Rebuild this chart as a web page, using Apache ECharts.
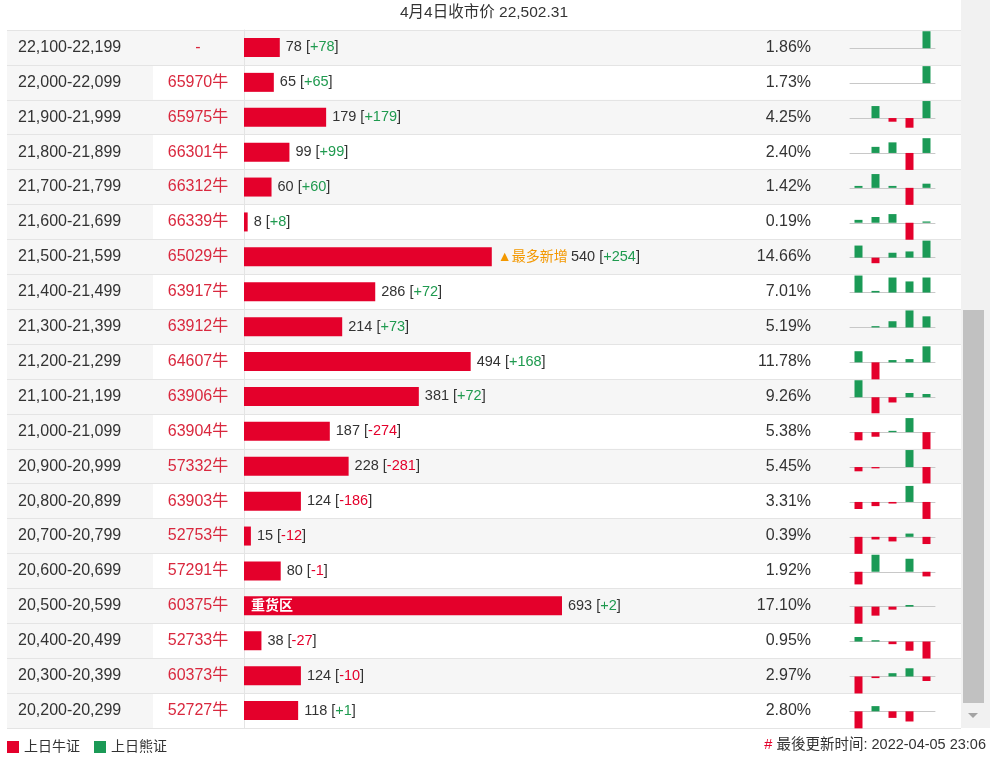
<!DOCTYPE html>
<html><head><meta charset="utf-8">
<script src="https://cdn.jsdelivr.net/npm/echarts@6/dist/echarts.min.js"></script>
<style>html,body{margin:0;padding:0;background:#fff}#c{width:990px;height:763px}</style>
</head><body><div id="c"></div>
<script>
const ranges = ['22,100-22,199','22,000-22,099','21,900-21,999','21,800-21,899','21,700-21,799','21,600-21,699','21,500-21,599','21,400-21,499','21,300-21,399','21,200-21,299','21,100-21,199','21,000-21,099','20,900-20,999','20,800-20,899','20,700-20,799','20,600-20,699','20,500-20,599','20,400-20,499','20,300-20,399','20,200-20,299'];
const codes = ['-','65970牛','65975牛','66301牛','66312牛','66339牛','65029牛','63917牛','63912牛','64607牛','63906牛','63904牛','57332牛','63903牛','52753牛','57291牛','60375牛','52733牛','60373牛','52727牛'];
const counts = [78,65,179,99,60,8,540,286,214,494,381,187,228,124,15,80,693,38,124,118];
const changes = [78,65,179,99,60,8,254,72,73,168,72,-274,-281,-186,-12,-1,2,-27,-10,1];
const pcts = ['1.86%','1.73%','4.25%','2.40%','1.42%','0.19%','14.66%','7.01%','5.19%','11.78%','9.26%','5.38%','5.45%','3.31%','0.39%','1.92%','17.10%','0.95%','2.97%','2.80%'];
const days = ['T-4','T-3','T-2','T-1','T'];
// 5-day mini bars per row (relative heights)
const sparks = [
  [0,0,0,0,51],
  [0,0,0,0,51],
  [0,36,-11,-29,51],
  [0,19,33,-53,46],
  [6,43,6,-53,13],
  [9,18,27,-53,4],
  [37,-17,15,19,52],
  [52,5,46,34,46],
  [0,4,19,52,34],
  [34,-52,7,10,49],
  [52,-49,-16,13,10],
  [-25,-14,4,43,-52],
  [-13,-4,0,52,-50],
  [-22,-13,-5,50,-53],
  [-52,-8,-14,10,-22],
  [-38,51,0,39,-14],
  [-51,-27,-9,5,0],
  [14,4,-8,-28,-52],
  [-52,-5,10,25,-14],
  [-52,16,-20,-31,0]
];
const titleText = '4月4日收市价 22,502.31';
const updateText = '最後更新时间: 2022-04-05 23:06';
const legendNames = ['上日牛证','上日熊证'];

const FONT = '"Liberation Sans", Arial, "Noto Sans CJK SC", sans-serif';
const RED = '#e4002b', GREEN = '#1b9a56', CODE_RED = '#d9283e', TXT = '#333';
const TOP = 30, H = 698, N = ranges.length, ROW = H / N;
const heavyIdx = counts.indexOf(Math.max(...counts));
const newIdx = changes.indexOf(Math.max(...changes));

const chart = echarts.init(document.getElementById('c'));

const grids = [
  {left: 7, right: 29, top: TOP, height: H},      // 0 table background
  {left: 7, width: 146, top: TOP, height: H},     // 1 first column
  {left: 244, right: 57.7, top: TOP, height: H}   // 2 bars
];
const xAxes = [
  {gridIndex: 0, type: 'value', show: false},
  {gridIndex: 1, type: 'value', show: false},
  {gridIndex: 2, type: 'value', min: 0, max: 1500, show: false}
];
const catBase = {type: 'category', inverse: true, data: ranges, axisTick: {show: false}};
const yAxes = [
  Object.assign({}, catBase, {gridIndex: 0, z: 0, axisLine: {show: false}, axisLabel: {show: false, interval: 0},
    splitLine: {show: true, interval: 0, lineStyle: {color: '#e4e4e4'}},
    splitArea: {show: true, interval: 0, areaStyle: {color: ['#f6f6f6', '#ffffff']}}}),
  Object.assign({}, catBase, {gridIndex: 1, z: 1, axisLine: {show: false}, axisLabel: {show: false, interval: 0},
    splitLine: {show: true, interval: 0, lineStyle: {color: '#e4e4e4'}},
    splitArea: {show: true, interval: 0, areaStyle: {color: ['#f6f6f6', '#f6f6f6']}}}),
  Object.assign({}, catBase, {gridIndex: 0, z: 3, position: 'left', axisLine: {show: false},
    axisLabel: {inside: true, margin: 11, interval: 0, align: 'left',
      formatter: (v, i) => '{a|' + v + '}{b|' + codes[i] + '}',
      rich: {
        a: {width: 135, align: 'left', fontSize: 16, color: TXT, fontFamily: FONT},
        b: {width: 90, align: 'center', fontSize: 16, color: CODE_RED, fontFamily: FONT}
      }}}),
  Object.assign({}, catBase, {gridIndex: 0, z: 3, position: 'right', data: pcts, axisLine: {show: false},
    axisLabel: {inside: true, margin: 150, interval: 0, fontSize: 16, color: TXT, fontFamily: FONT}}),
  Object.assign({}, catBase, {gridIndex: 2, z: 3, axisLine: {show: true, lineStyle: {color: '#e4e4e4'}}, axisLabel: {show: false}})
];

const series = [
  {type: 'bar', name: '街货', xAxisIndex: 2, yAxisIndex: 4, data: counts, barWidth: 19, silent: true,
    itemStyle: {color: RED}, z: 3,
    label: {show: true, position: 'right', distance: 6,
      formatter: p => {
        const i = p.dataIndex, c = changes[i];
        const cs = (c > 0 ? '+' : '') + c;
        return (i === newIdx ? '{o|▲最多新增} ' : '') + '{v|' + counts[i] + ' [}{' + (c >= 0 ? 'g' : 'r') + '|' + cs + '}{v|]}';
      },
      rich: {
        v: {fontSize: 14.5, color: TXT, fontFamily: FONT},
        g: {fontSize: 14.5, color: '#1f9a4f', fontFamily: FONT},
        r: {fontSize: 14.5, color: RED, fontFamily: FONT},
        o: {fontSize: 14, color: '#f39800', fontFamily: FONT}
      }}},
  {type: 'bar', name: '重货区', xAxisIndex: 2, yAxisIndex: 4, barGap: '-100%', barWidth: 19, silent: true, z: 4,
    data: counts.map((v, i) => ({value: v, label: {show: i === heavyIdx}})),
    itemStyle: {color: 'rgba(0,0,0,0)'},
    label: {position: 'insideLeft', distance: 7, formatter: '重货区', color: '#fff', fontWeight: 'bold', fontSize: 14, fontFamily: FONT}}
];

sparks.forEach((row, i) => {
  const gi = 3 + i;
  grids.push({left: 850, width: 85, top: TOP + ROW * i + 1.25, height: 34});
  xAxes.push({gridIndex: gi, type: 'category', data: days, z: 1,
    axisLine: {show: true, lineStyle: {color: '#c8c8c8'}}, axisTick: {show: false}, axisLabel: {show: false}});
  const sym = v => Math.max(Math.abs(v.min), Math.abs(v.max)) || 1;
  yAxes.push({gridIndex: gi, type: 'value', show: false, min: v => -sym(v), max: v => sym(v)});
  series.push({type: 'bar', name: legendNames[1], xAxisIndex: gi, yAxisIndex: 5 + i, stack: 's' + i, barWidth: 8, silent: true, z: 3,
    data: row.map(v => v > 0 ? v : 0), itemStyle: {color: GREEN}});
  series.push({type: 'bar', name: legendNames[0], xAxisIndex: gi, yAxisIndex: 5 + i, stack: 's' + i, barWidth: 8, silent: true, z: 3,
    data: row.map(v => v < 0 ? v : 0), itemStyle: {color: RED}});
});

chart.setOption({
  animation: false,
  backgroundColor: '#fff',
  title: [
    {text: titleText, left: 484, textAlign: 'center', top: 5, padding: 0,
      textStyle: {fontSize: 15.5, fontWeight: 'normal', color: TXT, fontFamily: FONT}},
    {text: '{h|#} ' + updateText, right: 4, top: 738, padding: 0,
      textStyle: {fontSize: 14.5, fontWeight: 'normal', color: TXT, fontFamily: FONT,
        rich: {h: {fontSize: 14.5, color: RED, fontFamily: FONT}}}}
  ],
  legend: {data: legendNames, left: 7, top: 740, padding: 0, icon: 'rect', itemWidth: 12, itemHeight: 12, itemGap: 14,
    selectedMode: false, textStyle: {fontSize: 14, color: TXT, fontFamily: FONT}},
  graphic: [
    {type: 'rect', shape: {x: 961, y: 0, width: 29, height: 728}, style: {fill: '#f1f1f1'}, silent: true},
    {type: 'rect', shape: {x: 963, y: 310, width: 21, height: 393}, style: {fill: '#c1c1c1'}, silent: true},
    {type: 'polygon', shape: {points: [[968, 713], [978, 713], [973, 718]]}, style: {fill: '#a3a3a3'}, silent: true}
  ],
  grid: grids,
  xAxis: xAxes,
  yAxis: yAxes,
  series: series
});
</script></body></html>
